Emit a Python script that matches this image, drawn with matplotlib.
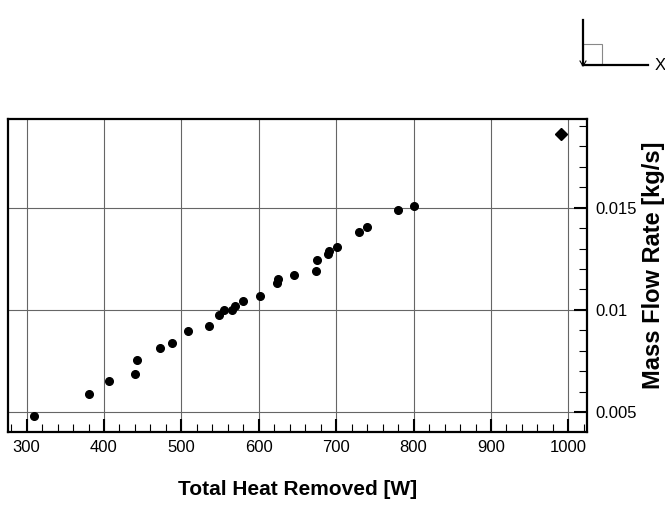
import matplotlib
matplotlib.use('Agg')
import matplotlib.pyplot as plt
from matplotlib.lines import Line2D
from matplotlib.patches import Rectangle
from matplotlib.ticker import MultipleLocator, FixedFormatter, FixedLocator

plt.rcParams['font.family'] = ['Liberation Sans', 'DejaVu Sans']

# measured points (circles)
heat = [309, 380, 406, 440, 443, 473, 488, 509, 536, 549, 555, 565, 569,
        580, 602, 623, 625, 646, 674, 675, 690, 691, 701, 729, 740, 780, 800]
flow = [0.00478, 0.00587, 0.00653, 0.00685, 0.00752, 0.00811, 0.00840,
        0.00895, 0.00923, 0.00973, 0.01000, 0.00998, 0.01021, 0.01045,
        0.01067, 0.01130, 0.01150, 0.01169, 0.01188, 0.01243, 0.01275,
        0.01290, 0.01309, 0.01380, 0.01406, 0.01487, 0.01509]

# single outlier (diamond)
heat_d = [990]
flow_d = [0.01863]

x_ticks = [300, 400, 500, 600, 700, 800, 900, 1000]
y_ticks = [0.005, 0.01, 0.015]
y_labels = ['0.005', '0.01', '0.015']

fig = plt.figure(figsize=(6.65, 5.05), dpi=100)
ax = fig.add_axes([8 / 665, 1 - 432 / 505, 579 / 665, 313 / 505])

ax.plot(heat, flow, 'o', color='black', markersize=5.5, zorder=3)
ax.plot(heat_d, flow_d, 'D', color='black', markersize=6, zorder=3)

ax.set_xlim(276, 1024)
ax.set_ylim(0.00402, 0.01934)

ax.xaxis.set_major_locator(FixedLocator(x_ticks))
ax.xaxis.set_minor_locator(MultipleLocator(20))
ax.yaxis.set_major_locator(FixedLocator(y_ticks))
ax.yaxis.set_major_formatter(FixedFormatter(y_labels))
ax.yaxis.set_minor_locator(MultipleLocator(0.001))

ax.yaxis.tick_right()
ax.yaxis.set_label_position('right')
ax.tick_params(which='major', direction='in', length=9.5, width=1.5,
               labelsize=12, pad=6)
ax.tick_params(which='minor', direction='in', length=5.5, width=0.8)
ax.tick_params(axis='x', which='both', top=False)
ax.tick_params(axis='y', which='both', left=False)

for s in ax.spines.values():
    s.set_linewidth(1.6)

ax.grid(True, which='major', color='#666666', linewidth=0.8)
ax.set_axisbelow(True)

ax.set_xlabel('Total Heat Removed [W]', fontsize=15, fontweight='bold')
ax.xaxis.set_label_coords(0.5, -0.152)
ax.set_ylabel('Mass Flow Rate [kg/s]', fontsize=17, fontweight='bold')
ax.yaxis.set_label_coords(1.095, 0.532)

# small axis orientation icon in the top right corner
def fx(px):
    return px / 665

def fy(py):
    return 1 - py / 505

fig.add_artist(Rectangle((fx(583), fy(65)), fx(602) - fx(583), fy(44) - fy(65),
                         transform=fig.transFigure, fill=False,
                         edgecolor='#888888', linewidth=0.8))
fig.add_artist(Line2D([fx(583), fx(583)], [fy(20), fy(65)],
                      transform=fig.transFigure, color='black', linewidth=1.6))
fig.add_artist(Line2D([fx(583), fx(648)], [fy(65), fy(65)],
                      transform=fig.transFigure, color='black', linewidth=1.6))
fig.add_artist(Line2D([fx(580), fx(583), fx(586)], [fy(61), fy(66), fy(61)],
                      transform=fig.transFigure, color='black', linewidth=0.8))
fig.text(fx(655), fy(65), 'X', fontsize=12, va='center', ha='left')

fig.savefig('out.png', dpi=100)
